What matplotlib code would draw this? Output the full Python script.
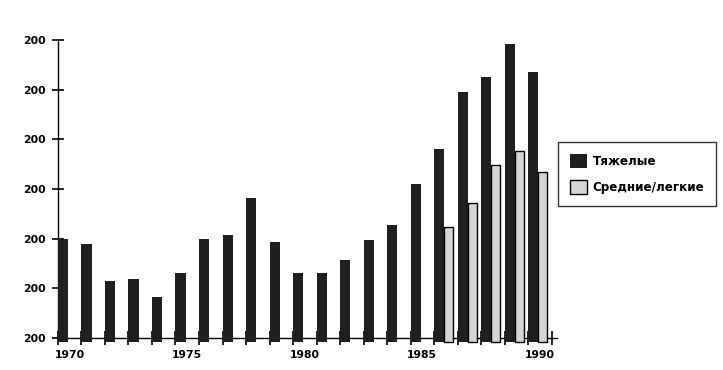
import numpy as np
import matplotlib
matplotlib.use("Agg")
import matplotlib.pyplot as plt
from matplotlib.patches import Patch

plt.rcParams['font.family'] = ['DejaVu Sans']

years = list(range(1970, 1991))
heavy = [1.99, 1.89, 1.15, 1.19, 0.83, 1.31, 1.99, 2.07, 2.82, 1.93, 1.31,
         1.31, 1.57, 1.97, 2.27, 3.10, 3.80, 4.95, 5.25, 5.92, 5.35]
light_years = [1986, 1987, 1988, 1989, 1990]
light = [2.23, 2.72, 3.48, 3.76, 3.34]

ytick_labels = ["200"] * 7
xtick_years = [1970, 1975, 1980, 1985, 1990]
legend_labels = ["Тяжелые", "Средние/легкие"]

dark = "#1f1f1f"
pale = "#d3d5d8"

fig = plt.figure(figsize=(7.23, 3.70), dpi=100)
ax = fig.add_axes([0.0802, 0.0865, 0.770 - 0.0802, 0.892 - 0.0865])

w_heavy = 0.43
w_light = 0.38
below = -0.08

x = np.array(years) - 0.5
ax.bar(x, np.array(heavy) - below, bottom=below, width=w_heavy, align="edge",
       color=dark, linewidth=0, clip_on=False, zorder=3)

xl = np.array(light_years) - 0.5 + w_heavy
ax.bar(xl, np.array(light) - below, bottom=below, width=w_light, align="edge",
       color=pale, edgecolor="black", linewidth=1.0, clip_on=False, zorder=3)

ax.set_xlim(1969.5, 1990.72)
ax.set_ylim(0, 6)

for s in ["top", "right"]:
    ax.spines[s].set_visible(False)
for s in ["left", "bottom"]:
    ax.spines[s].set_linewidth(1.0)
    ax.spines[s].set_color("black")
ax.spines["left"].set_bounds(0, 6)

fs = 7.8

# y ticks
ax.set_yticks(np.arange(7))
ax.set_yticklabels(ytick_labels, fontsize=fs, fontweight="bold")
ax.tick_params(axis="y", direction="inout", length=8, width=1.2, pad=5)

# x ticks: slot boundaries as marks, year labels as label-only minor ticks
ax.set_xticks(np.arange(1969.5, 1991, 1.0))
ax.set_xticklabels([])
ax.tick_params(axis="x", which="major", direction="inout", length=10, width=1.2)
ax.set_xticks(xtick_years, minor=True)
ax.set_xticklabels([str(y) for y in xtick_years], minor=True,
                   fontsize=fs, fontweight="bold")
ax.tick_params(axis="x", which="minor", length=0, pad=9)

handles = [Patch(facecolor=dark, edgecolor=dark, linewidth=0),
           Patch(facecolor=pale, edgecolor="black", linewidth=1.0)]
leg = fig.legend(handles, legend_labels, loc="upper left",
                 bbox_to_anchor=(558 / 723, 1 - 142 / 370),
                 frameon=True, fancybox=False, edgecolor="black",
                 prop={"size": 8.6, "weight": "bold"},
                 handlelength=1.4, handleheight=1.4, handletextpad=0.5,
                 labelspacing=1.0, borderpad=1.0, borderaxespad=0)
leg.get_frame().set_linewidth(1.0)

fig.savefig("out.png", dpi=100)
